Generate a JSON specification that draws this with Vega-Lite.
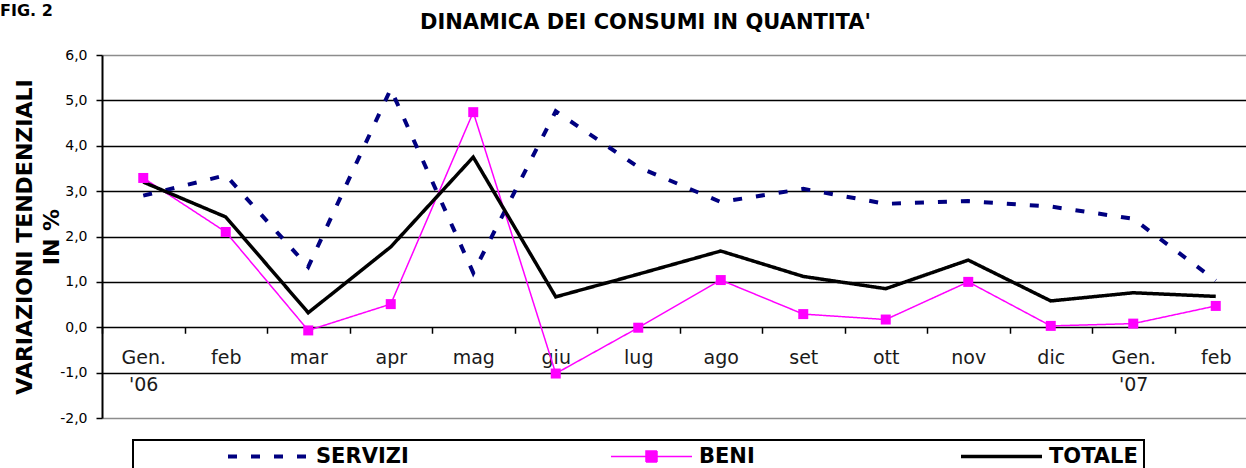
{
  "$schema": "https://vega.github.io/schema/vega-lite/v6.json",
  "width": 1144,
  "height": 363,
  "autosize": {"type": "none"},
  "padding": {"left": 102, "top": 55, "right": 0, "bottom": 50},
  "background": "white",
  "title": {"text": "FIG. 2", "anchor": "start", "frame": "group", "dx": -102, "dy": 8, "fontSize": 16, "font": "DejaVu Sans", "fontWeight": "bold", "color": "black", "offset": 0},
  "config": {
    "font": "DejaVu Sans",
    "view": {"stroke": null}
  },
  "data": {
    "values": [
      {"mese": "Gen. '06", "serie": "SERVIZI", "valore": 2.9},
      {"mese": "feb '06", "serie": "SERVIZI", "valore": 3.35},
      {"mese": "mar '06", "serie": "SERVIZI", "valore": 1.33},
      {"mese": "apr '06", "serie": "SERVIZI", "valore": 5.25},
      {"mese": "mag '06", "serie": "SERVIZI", "valore": 1.2},
      {"mese": "giu '06", "serie": "SERVIZI", "valore": 4.76},
      {"mese": "lug '06", "serie": "SERVIZI", "valore": 3.53},
      {"mese": "ago '06", "serie": "SERVIZI", "valore": 2.76},
      {"mese": "set '06", "serie": "SERVIZI", "valore": 3.05},
      {"mese": "ott '06", "serie": "SERVIZI", "valore": 2.72},
      {"mese": "nov '06", "serie": "SERVIZI", "valore": 2.78},
      {"mese": "dic '06", "serie": "SERVIZI", "valore": 2.66},
      {"mese": "Gen. '07", "serie": "SERVIZI", "valore": 2.39},
      {"mese": "feb '07", "serie": "SERVIZI", "valore": 1.03},
      {"mese": "Gen. '06", "serie": "BENI", "valore": 3.29},
      {"mese": "feb '06", "serie": "BENI", "valore": 2.1},
      {"mese": "mar '06", "serie": "BENI", "valore": -0.07},
      {"mese": "apr '06", "serie": "BENI", "valore": 0.51},
      {"mese": "mag '06", "serie": "BENI", "valore": 4.74},
      {"mese": "giu '06", "serie": "BENI", "valore": -1.02},
      {"mese": "lug '06", "serie": "BENI", "valore": -0.01},
      {"mese": "ago '06", "serie": "BENI", "valore": 1.04},
      {"mese": "set '06", "serie": "BENI", "valore": 0.29},
      {"mese": "ott '06", "serie": "BENI", "valore": 0.17},
      {"mese": "nov '06", "serie": "BENI", "valore": 1.0},
      {"mese": "dic '06", "serie": "BENI", "valore": 0.03},
      {"mese": "Gen. '07", "serie": "BENI", "valore": 0.08},
      {"mese": "feb '07", "serie": "BENI", "valore": 0.47},
      {"mese": "Gen. '06", "serie": "TOTALE", "valore": 3.2},
      {"mese": "feb '06", "serie": "TOTALE", "valore": 2.43},
      {"mese": "mar '06", "serie": "TOTALE", "valore": 0.32},
      {"mese": "apr '06", "serie": "TOTALE", "valore": 1.77},
      {"mese": "mag '06", "serie": "TOTALE", "valore": 3.75},
      {"mese": "giu '06", "serie": "TOTALE", "valore": 0.67},
      {"mese": "lug '06", "serie": "TOTALE", "valore": 1.17},
      {"mese": "ago '06", "serie": "TOTALE", "valore": 1.68},
      {"mese": "set '06", "serie": "TOTALE", "valore": 1.12},
      {"mese": "ott '06", "serie": "TOTALE", "valore": 0.85},
      {"mese": "nov '06", "serie": "TOTALE", "valore": 1.48},
      {"mese": "dic '06", "serie": "TOTALE", "valore": 0.58},
      {"mese": "Gen. '07", "serie": "TOTALE", "valore": 0.76},
      {"mese": "feb '07", "serie": "TOTALE", "valore": 0.68}
    ]
  },
  "resolve": {"axis": {"x": "independent"}},
  "layer": [
    {
      "mark": {"type": "line"},
      "encoding": {
        "x": {
          "field": "mese", "type": "ordinal",
          "sort": ["Gen. '06", "feb '06", "mar '06", "apr '06", "mag '06", "giu '06", "lug '06", "ago '06", "set '06", "ott '06", "nov '06", "dic '06", "Gen. '07", "feb '07"],
          "scale": {"type": "band", "range": [0, 1155], "paddingInner": 0, "paddingOuter": 0},
          "axis": {
            "orient": "bottom", "offset": -90.75, "domain": false, "grid": false,
            "tickBand": "extent", "tickSize": 6, "tickColor": "black", "tickWidth": 1.5,
            "labelExpr": "indexof(datum.label, 'Gen') === 0 ? split(datum.label, ' ') : split(datum.label, ' ')[0]",
            "labelFontSize": 19, "labelColor": "#1a1a1a", "labelAngle": 0, "labelPadding": 15,
            "labelLineHeight": 27, "labelFont": "DejaVu Sans", "title": null
          }
        },
        "y": {
          "field": "valore", "type": "quantitative",
          "scale": {"domain": [-2, 6], "nice": false, "zero": false},
          "axis": {
            "values": [-2, -1, 0, 1, 2, 3, 4, 5, 6],
            "labelExpr": "replace(replace(format(datum.value, '.1f'), '.', ','), '−', '-')",
            "labelFontSize": 14, "labelColor": "black", "labelPadding": 9, "labelFont": "DejaVu Sans",
            "tickSize": 6, "tickColor": "black", "tickWidth": 1.5,
            "domainColor": "black", "domainWidth": 2,
            "grid": true,
            "gridColor": {"condition": {"test": "datum.value === 6 || datum.value === -2", "value": "#8c8c8c"}, "value": "black"},
            "gridWidth": 1.5,
            "title": ["VARIAZIONI TENDENZIALI", "IN %"],
            "titleFontSize": 22, "titleFontWeight": "bold", "titleColor": "black", "titleFont": "DejaVu Sans",
            "titleLineHeight": 27, "titlePadding": -4
          }
        },
        "color": {
          "field": "serie", "type": "nominal",
          "scale": {"domain": ["SERVIZI", "BENI", "TOTALE"], "range": ["#000080", "#FF00FF", "#000000"]},
          "legend": {
            "orient": "none", "legendX": 31, "legendY": 385,
            "direction": "horizontal", "columns": 3, "gridAlign": "none", "columnPadding": 199,
            "title": " ", "titleOrient": "left", "titleFontSize": 2, "titlePadding": 89,
            "padding": 6, "strokeColor": "black", "fillColor": "white",
            "symbolSize": 100, "symbolType": "M-8.1,0H8.1", "symbolOffset": 30, "labelOffset": 37,
            "labelFontSize": 21, "labelFontWeight": "bold", "labelColor": "black", "labelFont": "DejaVu Sans",
            "labelLimit": 400,
            "encode": {
              "legend": {"update": {"strokeWidth": {"value": 2}}},
              "labels": {"update": {
                "text": {"signal": "datum.value === 'TOTALE' ? 'TOTALE\u00a0\u00a0\u00a0\u00a0\u00a0\u00a0\u00a0\u00a0\u00a0\u00a0\u00a0\u00a0' : datum.label"}
              }},
              "symbols": {"update": {
                "shape": [{"test": "datum.value === 'BENI'", "value": "M-8.1,0H8.1M-1.1,-1.1H1.1V1.1H-1.1Z"}, {"value": "M-8.1,0H8.1"}],
                "fill": [{"test": "datum.value === 'BENI'", "value": "#FF00FF"}, {"value": "transparent"}]
              }}
            }
          }
        },
        "strokeDash": {
          "field": "serie", "type": "nominal",
          "scale": {"domain": ["SERVIZI", "BENI", "TOTALE"], "range": [[9, 14], [1, 0], [1, 0]]}
        },
        "strokeWidth": {
          "field": "serie", "type": "nominal",
          "scale": {"type": "ordinal", "domain": ["SERVIZI", "BENI", "TOTALE"], "range": [4, 1.5, 3.5]}
        }
      }
    },
    {
      "transform": [{"filter": "datum.serie === 'BENI'"}],
      "mark": {"type": "point", "shape": "square", "filled": true, "size": 100, "color": "#FF00FF", "opacity": 1},
      "encoding": {
        "x": {
          "field": "mese", "type": "ordinal",
          "sort": ["Gen. '06", "feb '06", "mar '06", "apr '06", "mag '06", "giu '06", "lug '06", "ago '06", "set '06", "ott '06", "nov '06", "dic '06", "Gen. '07", "feb '07"],
          "axis": {
            "orient": "top", "labels": false, "ticks": false, "domain": false, "grid": false,
            "title": "DINAMICA DEI CONSUMI IN QUANTITA'",
            "titleX": 543, "titleY": -27, "titleAlign": "center", "titleBaseline": "alphabetic", "titleAngle": 0,
            "titleFontSize": 21, "titleFontWeight": "bold", "titleColor": "black", "titleFont": "DejaVu Sans"
          }
        },
        "y": {"field": "valore", "type": "quantitative"}
      }
    }
  ]
}
